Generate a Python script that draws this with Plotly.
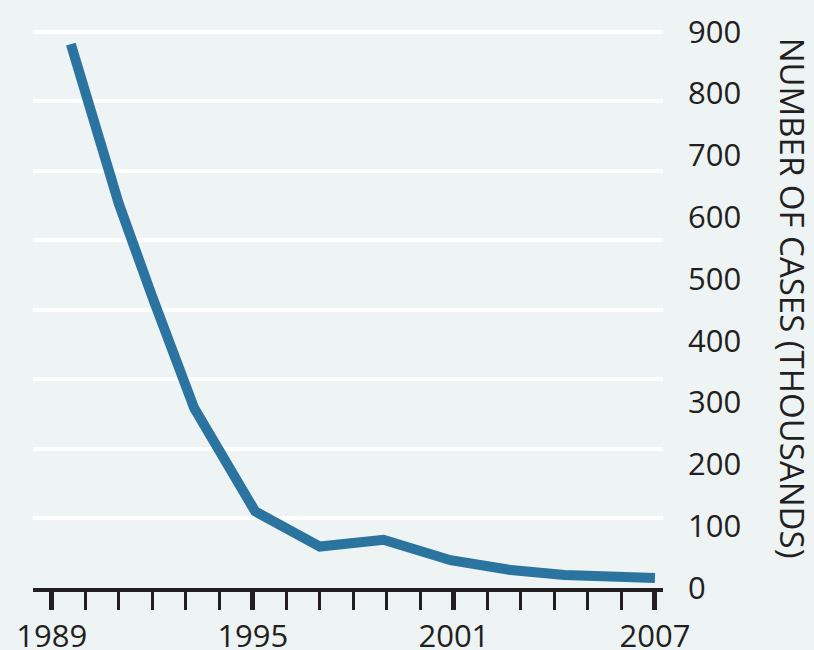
import plotly.graph_objects as go

# Data (year, cases in thousands)
years = [1989.57, 1990.0, 1991.0, 1992.0, 1993.25, 1995.07, 1997.0, 1998.9, 2000.9, 2002.7, 2004.3, 2007.0]
cases = [880, 803, 622, 471, 291, 124, 67, 78, 45, 29, 21, 16]

y_tick_vals = [0, 100, 200, 300, 400, 500, 600, 700, 800, 900]
x_tick_labels_years = [1989, 1995, 2001, 2007]
grid_levels = [1, 2, 3, 4, 5, 6, 7, 8]  # decorative background bands

BG = "#eef3f4"
INK = "#231f20"
LINE = "#2b74a0"
FONT = "Open Sans"

fig = go.Figure()
fig.add_trace(go.Scatter(
    x=years, y=cases, mode="lines",
    line=dict(color=LINE, width=10),
    yaxis="y", hoverinfo="skip", showlegend=False,
))
# invisible trace to activate yaxis2 gridlines
fig.add_trace(go.Scatter(x=[None], y=[None], yaxis="y2", showlegend=False, hoverinfo="skip"))

fig.update_layout(
    width=814, height=650,
    margin=dict(l=33, r=151, t=25, b=62, autoexpand=False),
    paper_bgcolor=BG, plot_bgcolor=BG,
    font=dict(family=FONT, color=INK, size=31),
    xaxis=dict(
        range=[1988.44, 2007.24], automargin=False,
        tickmode="array", tickvals=x_tick_labels_years,
        ticktext=[str(v) for v in x_tick_labels_years],
        ticks="outside", ticklen=18, tickwidth=4.5, tickcolor=INK,
        ticklabelstandoff=0,
        minor=dict(tickmode="linear", tick0=1989, dtick=1, ticks="outside",
                   ticklen=18, tickwidth=2.5, tickcolor=INK),
        showline=True, linecolor=INK, linewidth=4,
        showgrid=False, zeroline=False,
        tickfont=dict(family=FONT, size=31, color=INK),
    ),
    yaxis=dict(
        side="right", range=[0, 911], automargin=False,
        tickmode="array", tickvals=y_tick_vals,
        ticktext=[str(v) for v in y_tick_vals],
        ticks="", ticklabelstandoff=24,
        showgrid=False, zeroline=False, showline=False,
        tickfont=dict(family=FONT, size=31, color=INK),
    ),
    yaxis2=dict(
        overlaying="y", side="right", automargin=False,
        range=[0, 8.095], tickmode="array", tickvals=grid_levels,
        showticklabels=False, ticks="",
        showgrid=True, gridcolor="white", gridwidth=4,
        zeroline=False, showline=False,
    ),
    annotations=[dict(
        text="NUMBER OF CASES (THOUSANDS)",
        xref="paper", yref="paper", x=1.207, y=0.515,
        xanchor="center", yanchor="middle", textangle=90,
        showarrow=False, font=dict(family=FONT, size=33, color=INK),
    )],
)

fig.write_html("out.html", config={"displayModeBar": False},
               post_script="document.body.style.margin='0';")
